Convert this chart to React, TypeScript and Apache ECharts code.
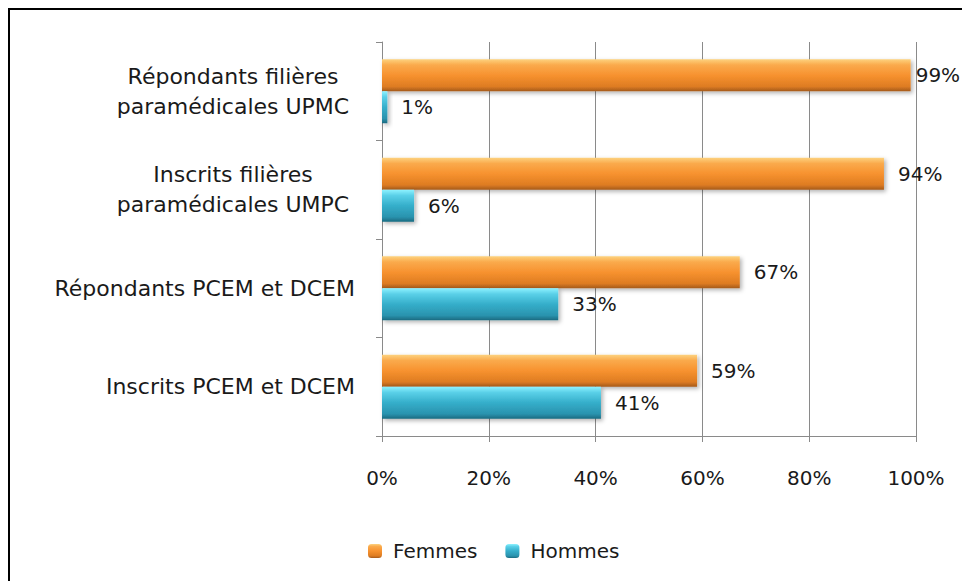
import React, { useEffect, useRef } from "react";
import * as echarts from "echarts";

const categories = [
  "Répondants filières\nparamédicales UPMC",
  "Inscrits filières\nparamédicales UMPC",
  "Répondants PCEM et DCEM",
  "Inscrits PCEM et DCEM",
];
const femmes = [99, 94, 67, 59];
const hommes = [1, 6, 33, 41];
const xTicks = [0, 20, 40, 60, 80, 100];

const FONT = "DejaVu Sans";
const TEXT = "#1a1a1a";
const GRIDC = "#8a8a8a";

const orangeGrad = new echarts.graphic.LinearGradient(0, 0, 0, 1, [
  { offset: 0, color: "#FDD27E" },
  { offset: 0.18, color: "#FAAA4C" },
  { offset: 0.5, color: "#F7922F" },
  { offset: 0.85, color: "#DE7C22" },
  { offset: 1, color: "#A55A1C" },
]);
const blueGrad = new echarts.graphic.LinearGradient(0, 0, 0, 1, [
  { offset: 0, color: "#8EF2FF" },
  { offset: 0.18, color: "#5AD0E8" },
  { offset: 0.5, color: "#35AECA" },
  { offset: 0.85, color: "#2A93AE" },
  { offset: 1, color: "#1B6A80" },
]);

export default function App() {
  const ref = useRef<HTMLDivElement>(null);
  useEffect(() => {
    if (!ref.current) return;
    const chart = echarts.init(ref.current, null, { renderer: "svg" });
    const labelCfg = {
      show: true,
      position: "right",
      distance: 14,
      formatter: (p: any) => `${p.value}%`,
      fontFamily: FONT,
      fontSize: 20,
      color: TEXT,
    };
    const shadow = {
      shadowBlur: 4,
      shadowOffsetX: 2,
      shadowOffsetY: 2,
      shadowColor: "rgba(0,0,0,0.3)",
    };
    // labels near the right edge sit closer to their bar
    const withDistance = (arr: number[]) =>
      arr.map((v) => (v >= 97 ? { value: v, label: { distance: 5 } } : v));
    chart.setOption({
      animation: false,
      backgroundColor: "#ffffff",
      textStyle: { fontFamily: FONT },
      graphic: [
        {
          type: "rect",
          shape: { x: 9, y: 9, width: 1000, height: 1000 },
          style: { fill: "none", stroke: "#000", lineWidth: 2 },
          silent: true,
        },
      ],
      legend: {
        left: 363,
        top: 536,
        itemWidth: 14,
        itemHeight: 14,
        itemGap: 28,
        textStyle: {
          fontFamily: FONT,
          fontSize: 20,
          color: TEXT,
          padding: [0, 0, 0, 6],
        },
        data: ["Femmes", "Hommes"],
      },
      grid: { left: 382, right: 46, top: 42, bottom: 145, containLabel: false },
      xAxis: {
        type: "value",
        min: xTicks[0],
        max: xTicks[xTicks.length - 1],
        interval: 20,
        axisLine: { show: true, lineStyle: { color: GRIDC, width: 1 } },
        axisTick: { show: true, length: 6, lineStyle: { color: GRIDC } },
        splitLine: { show: true, lineStyle: { color: GRIDC, width: 1 } },
        axisLabel: {
          margin: 32,
          fontFamily: FONT,
          fontSize: 20,
          color: TEXT,
          formatter: (v: number) => `${v}%`,
        },
      },
      yAxis: {
        type: "category",
        inverse: true,
        data: categories,
        axisLine: { show: true, lineStyle: { color: GRIDC, width: 1 } },
        axisTick: { show: true, length: 6, lineStyle: { color: GRIDC } },
        axisLabel: {
          margin: 27,
          fontFamily: FONT,
          fontSize: 22,
          color: TEXT,
          lineHeight: 30,
          align: "right",
          formatter: (v: string) => {
            if (v.includes("\n")) {
              return v
                .split("\n")
                .map((l) => `{c|${l}}`)
                .join("\n");
            }
            return v;
          },
          rich: {
            c: {
              width: 244,
              align: "center",
              fontFamily: FONT,
              fontSize: 22,
              color: TEXT,
              lineHeight: 30,
            },
          },
        },
      },
      series: [
        {
          name: "Femmes",
          type: "bar",
          data: withDistance(femmes),
          barWidth: 32,
          barGap: "0%",
          itemStyle: { color: orangeGrad, ...shadow },
          label: labelCfg,
        },
        {
          name: "Hommes",
          type: "bar",
          data: hommes,
          barWidth: 32,
          barGap: "0%",
          itemStyle: { color: blueGrad, ...shadow },
          label: labelCfg,
        },
      ],
    });
    return () => chart.dispose();
  }, []);
  return (
    <div
      ref={ref}
      style={{ position: "fixed", left: 0, top: 0, width: 962, height: 581 }}
    />
  );
}
